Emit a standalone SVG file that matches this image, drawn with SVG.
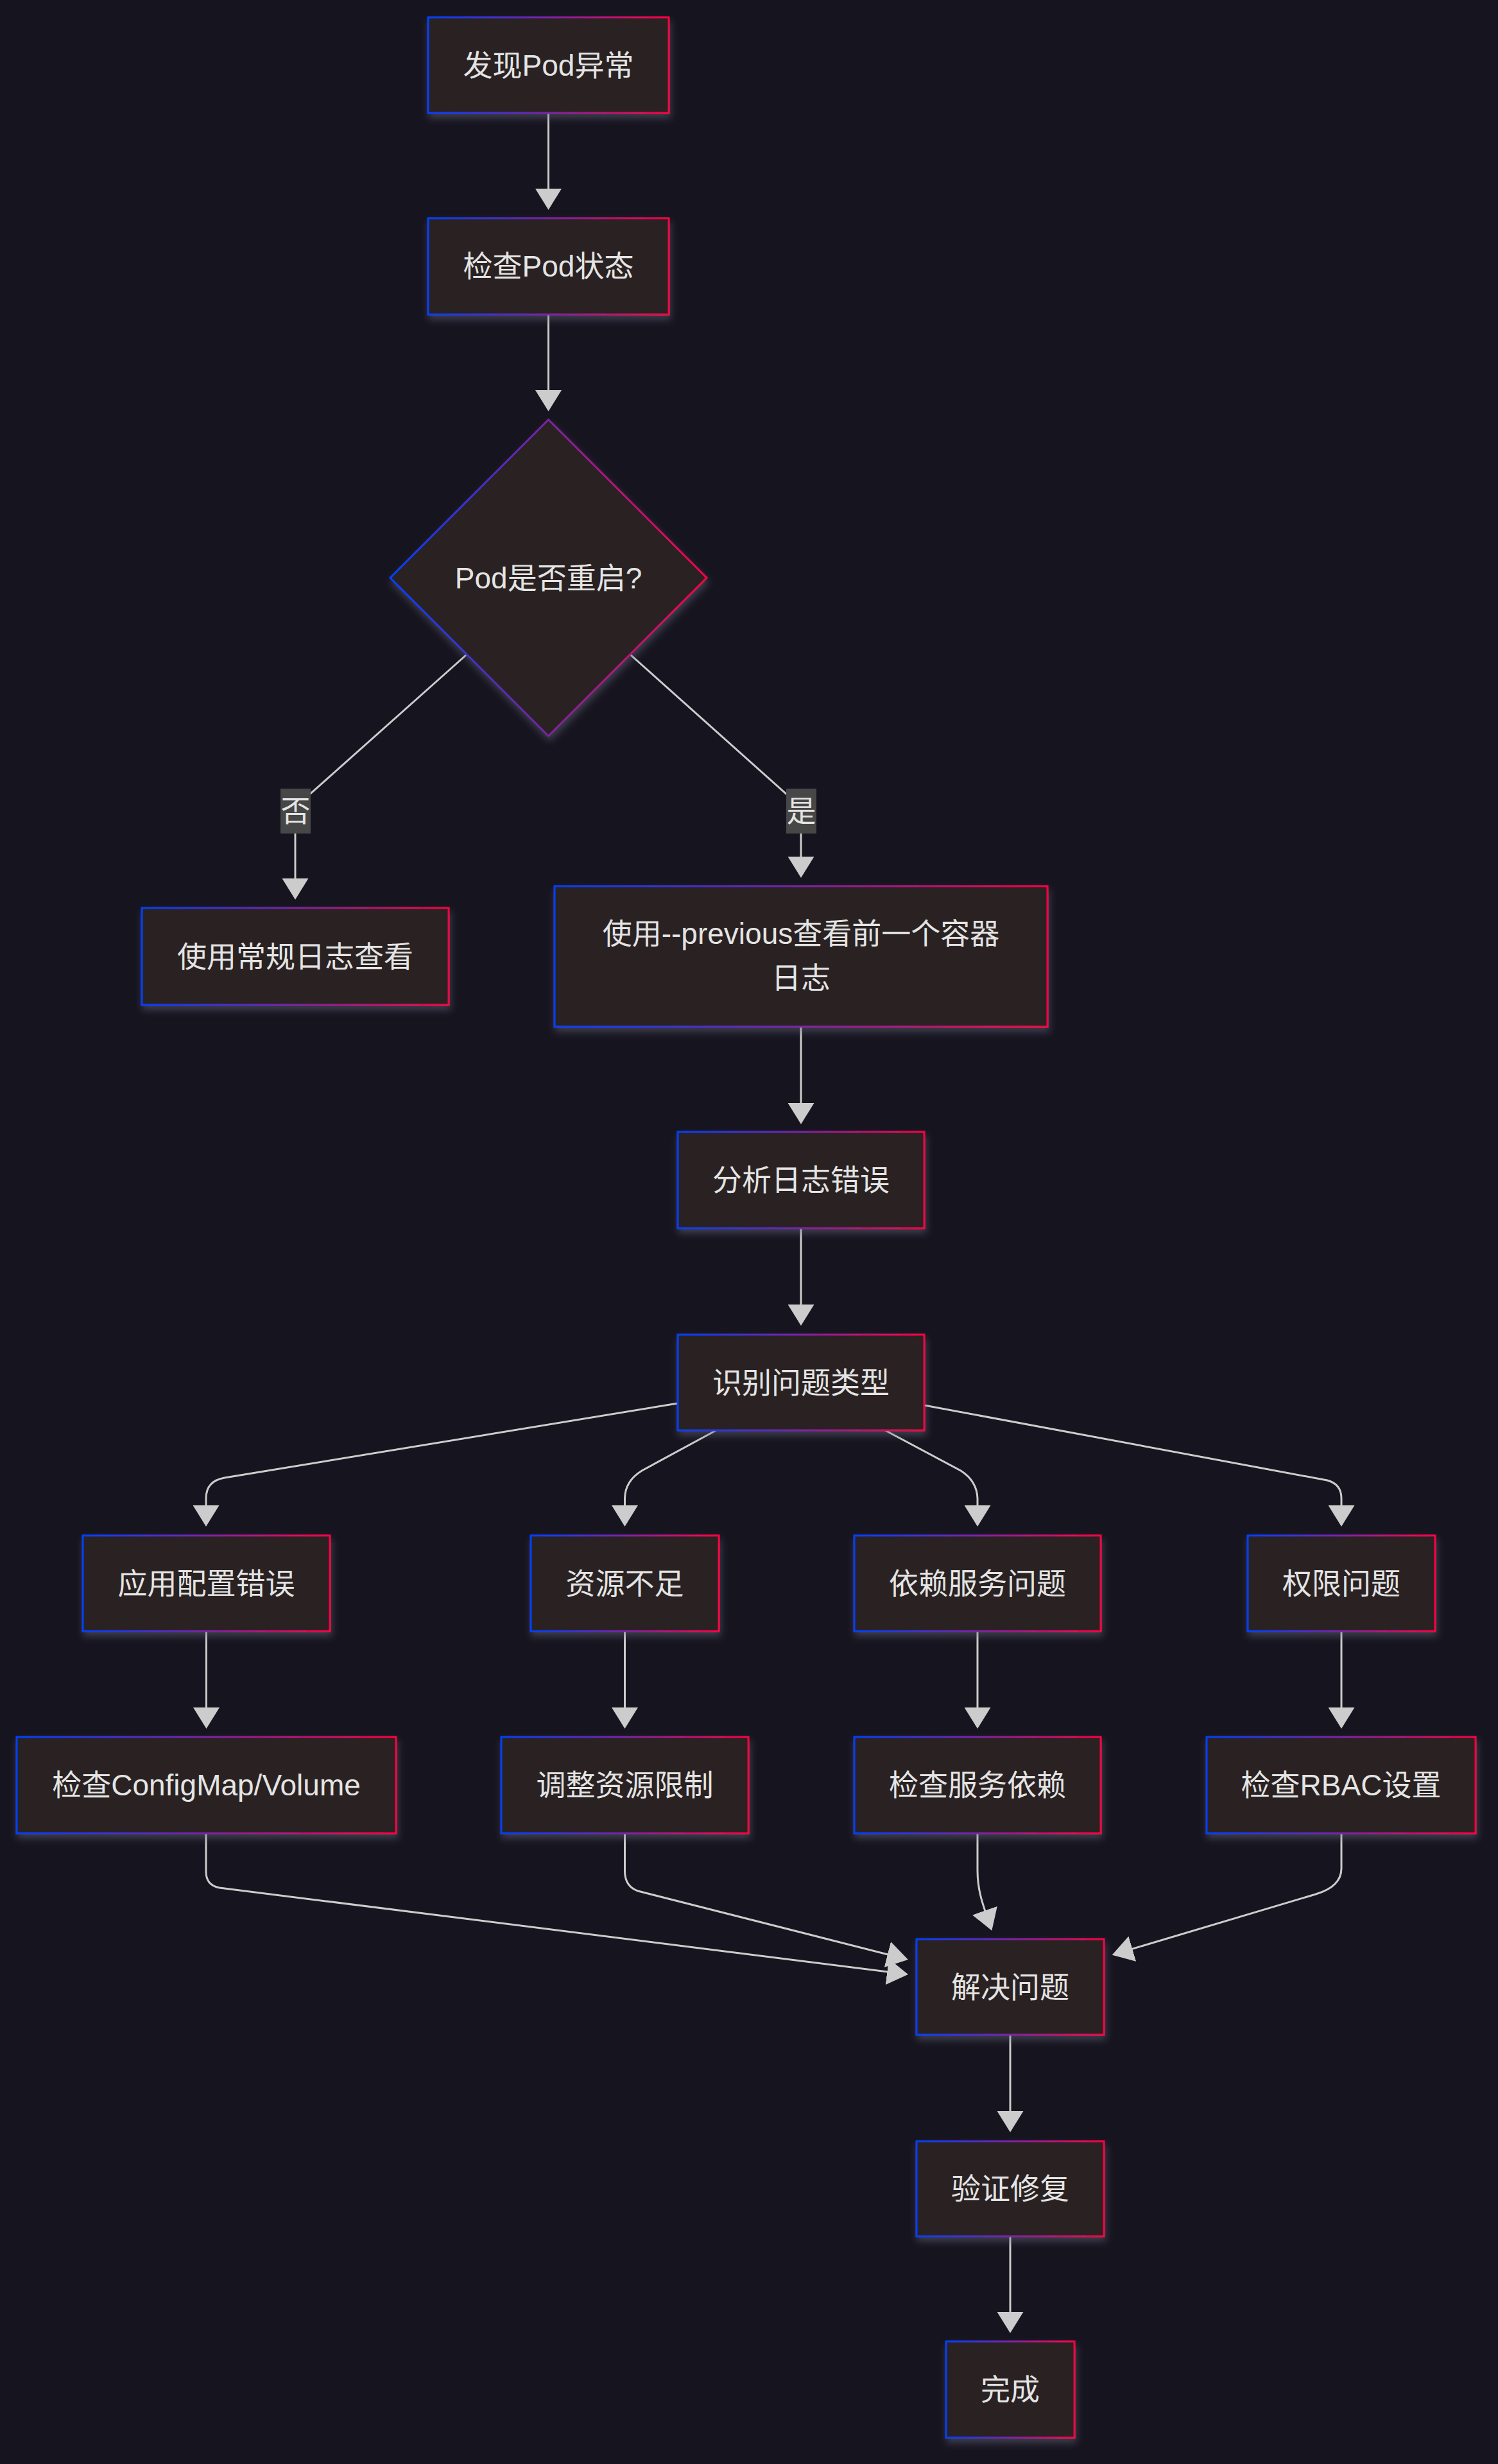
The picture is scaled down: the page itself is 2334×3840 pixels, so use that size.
<svg xmlns="http://www.w3.org/2000/svg" width="2334" height="3840" viewBox="0 0 2334 3840">
<defs>
<linearGradient id="g" x1="0" y1="0" x2="1" y2="0">
<stop offset="0" stop-color="#0040ff"/>
<stop offset="0.5" stop-color="#7d22a8"/>
<stop offset="1" stop-color="#ff0044"/>
</linearGradient>
<filter id="sh" x="-20%" y="-20%" width="140%" height="150%">
<feDropShadow dx="2" dy="7" stdDeviation="6" flood-color="#6a6a80" flood-opacity="0.45"/>
</filter>
<marker id="ah" markerUnits="userSpaceOnUse" markerWidth="33" markerHeight="41" viewBox="0 0 33 41" refX="29" refY="20.5" orient="auto">
<path d="M0,0 L33,20.5 L0,41 z" fill="#cccccc"/>
</marker>
<style>
.n{fill:#2c2121;stroke:url(#g);stroke-width:3;filter:url(#sh)}
.t{font-family:"Liberation Sans","Noto Sans CJK SC",sans-serif;font-size:46px;fill:#e4e4e4;text-anchor:middle;dominant-baseline:central}
.e{fill:none;stroke:#cccccc;stroke-width:3;marker-end:url(#ah)}
.lb{fill:#464746}
</style>
</defs>
<rect width="2334" height="3840" fill="#16141f"/>
<g id="connectors">
<path class="e" d="M854.5,176 L854.5,323"/>
<path class="e" d="M854.5,490 L854.5,637"/>
<path class="e" d="M726,1021 L460,1258 L460,1398"/>
<path class="e" d="M983,1021 L1248,1258 L1248,1364"/>
<path class="e" d="M1248,1600 L1248,1748"/>
<path class="e" d="M1248,1914 L1248,2062"/>
<path class="e" d="M1056,2187 L350,2303 Q321,2308 321,2335 L321,2375"/>
<path class="e" d="M1116,2229 L1000,2292 Q974,2308 973.5,2335 L973.5,2375"/>
<path class="e" d="M1379,2229 L1497,2292 Q1522,2308 1523,2335 L1523,2375"/>
<path class="e" d="M1440,2190 L2068,2307 Q2090,2313 2090,2335 L2090,2375"/>
<path class="e" d="M321.5,2542 L321.5,2690"/>
<path class="e" d="M973.5,2542 L973.5,2690"/>
<path class="e" d="M1523,2542 L1523,2690"/>
<path class="e" d="M2090,2542 L2090,2690"/>
<path class="e" d="M321,2857 L321,2917 Q321,2938 342,2942 L1411,3076.5"/>
<path class="e" d="M973.5,2857 L973.5,2917 Q974,2940 994,2947 L1411,3053"/>
<path class="e" d="M1523,2857 L1523,2915 C1523,2945 1530,2965 1544,3005"/>
<path class="e" d="M2090,2857 L2090,2912 Q2090,2940 2050,2952 L1736.5,3045.5"/>
<path class="e" d="M1574,3171 L1574,3319"/>
<path class="e" d="M1574,3485 L1574,3632"/>
<rect class="lb" x="437" y="1229" width="47" height="70"/>
<text class="t" x="460.5" y="1264">否</text>
<rect class="lb" x="1225" y="1229" width="47" height="70"/>
<text class="t" x="1248.5" y="1264">是</text>
</g>
<g id="A"><rect class="n" x="667" y="27" width="375" height="149"/><text class="t" x="854.5" y="101.5">发现Pod异常</text></g>
<g id="B"><rect class="n" x="667" y="340" width="375" height="150"/><text class="t" x="854.5" y="415">检查Pod状态</text></g>
<g id="C"><polygon class="n" points="854.5,654 1101,900.5 854.5,1147 608,900.5"/><text class="t" x="854.5" y="900.5">Pod是否重启?</text></g>
<g id="D"><rect class="n" x="221" y="1415" width="478" height="151"/><text class="t" x="460" y="1490.5">使用常规日志查看</text></g>
<g id="E"><rect class="n" x="864" y="1381" width="768" height="219"/><text class="t" x="1248" y="1455">使用--previous查看前一个容器</text><text class="t" x="1248" y="1524">日志</text></g>
<g id="F"><rect class="n" x="1056" y="1764" width="384" height="150"/><text class="t" x="1248" y="1839">分析日志错误</text></g>
<g id="G"><rect class="n" x="1056" y="2080" width="384" height="149"/><text class="t" x="1248" y="2154.5">识别问题类型</text></g>
<g id="H"><rect class="n" x="129" y="2393" width="385" height="149"/><text class="t" x="321.5" y="2467.5">应用配置错误</text></g>
<g id="I"><rect class="n" x="827" y="2393" width="293" height="149"/><text class="t" x="973.5" y="2467.5">资源不足</text></g>
<g id="J"><rect class="n" x="1331" y="2393" width="384" height="149"/><text class="t" x="1523" y="2467.5">依赖服务问题</text></g>
<g id="K"><rect class="n" x="1944" y="2393" width="292" height="149"/><text class="t" x="2090" y="2467.5">权限问题</text></g>
<g id="L"><rect class="n" x="26" y="2707" width="591" height="150"/><text class="t" x="321.5" y="2782">检查ConfigMap/Volume</text></g>
<g id="M"><rect class="n" x="781" y="2707" width="385" height="150"/><text class="t" x="973.5" y="2782">调整资源限制</text></g>
<g id="N"><rect class="n" x="1331" y="2707" width="384" height="150"/><text class="t" x="1523" y="2782">检查服务依赖</text></g>
<g id="O"><rect class="n" x="1880" y="2707" width="419" height="150"/><text class="t" x="2089.5" y="2782">检查RBAC设置</text></g>
<g id="P"><rect class="n" x="1428" y="3022" width="292" height="149"/><text class="t" x="1574" y="3096.5">解决问题</text></g>
<g id="Q"><rect class="n" x="1428" y="3337" width="292" height="148"/><text class="t" x="1574" y="3411">验证修复</text></g>
<g id="R"><rect class="n" x="1474" y="3649" width="200" height="150"/><text class="t" x="1574" y="3724">完成</text></g>
</svg>
